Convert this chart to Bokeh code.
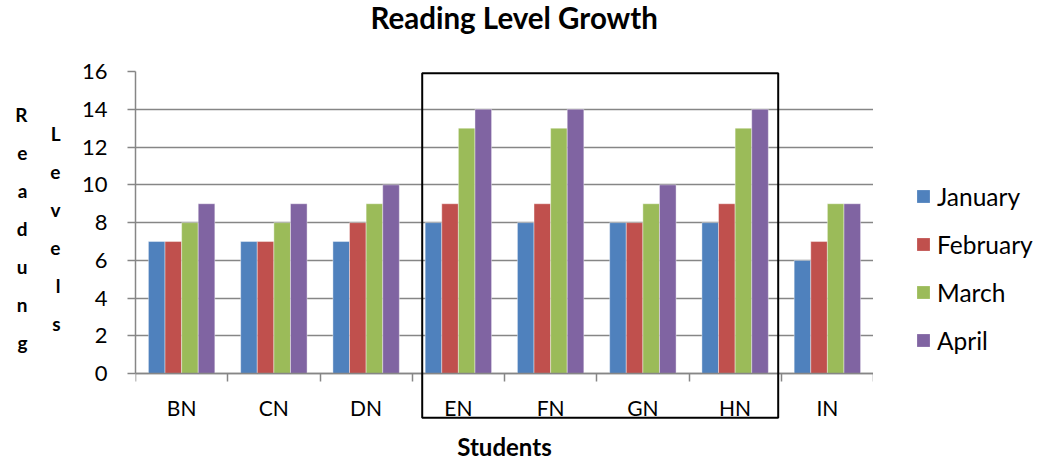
from bokeh.plotting import figure
from bokeh.layouts import row
from bokeh.models import (Range1d, FixedTicker, Legend, LegendItem, LinearAxis,
                          BoxAnnotation, ColumnDataSource)
from bokeh.embed import file_html
from bokeh.resources import INLINE

# Reading levels per student, one list per month
students = ["BN", "CN", "DN", "EN", "FN", "GN", "HN", "IN"]
months = ["January", "February", "March", "April"]
january = [7, 7, 7, 8, 8, 8, 8, 6]
february = [7, 7, 8, 9, 9, 8, 9, 7]
march = [8, 8, 9, 13, 13, 9, 13, 9]
april = [9, 9, 10, 14, 14, 10, 14, 9]
y_ticks = [0, 2, 4, 6, 8, 10, 12, 14, 16]

series = [january, february, march, april]
colors = ["#4F81BD", "#C0504D", "#9BBB59", "#8064A2"]
offsets = [-0.27, -0.09, 0.09, 0.27]
bar_width = 0.18

FONT = "Lato"
GRAY = "#868686"


def blank_axis(label, standoff, size, style="bold"):
    """An axis with no ticks, used only to carry a label (or empty space)."""
    return LinearAxis(ticker=FixedTicker(ticks=[], minor_ticks=[]),
                      axis_line_color=None, major_tick_line_color=None,
                      major_tick_out=0, major_tick_in=0,
                      minor_tick_out=0, minor_tick_in=0,
                      major_label_standoff=0,
                      axis_label=label, axis_label_standoff=standoff,
                      axis_label_text_font=FONT,
                      axis_label_text_font_size=size,
                      axis_label_text_font_style=style,
                      axis_label_text_color="black")


# The frame reaches below zero so the highlight box can extend under the
# category labels; the x axis itself is pinned at y = 0.
p = figure(width=873, height=463, output_backend="svg", toolbar_location=None,
           x_range=Range1d(0, len(students)), y_range=Range1d(-2.6316, 16),
           min_border_left=135, min_border_right=0,
           min_border_top=71, min_border_bottom=38)
p.outline_line_color = None
p.background_fill_color = "white"
p.border_fill_color = "white"

p.title.text = "Reading Level Growth"
p.title.align = "left"
p.title.offset = 235
p.title.text_font = FONT
p.title.text_font_size = "29.5px"
p.title.text_font_style = "bold"
p.title.text_color = "black"
p.title.standoff = -12

centers = [i + 0.5 for i in range(len(students))]
for name, vals, col, off in zip(months, series, colors, offsets):
    src = ColumnDataSource(dict(x=[c + off for c in centers], top=vals,
                                student=students))
    p.vbar(x="x", top="top", width=bar_width, source=src,
           fill_color=col, line_color="white", line_alpha=0.5, line_width=0.8)

# Grid and the two main axes
p.xgrid.visible = False
p.ygrid.grid_line_color = GRAY
p.ygrid.grid_line_width = 1.5

xa = p.below[0]
ya = p.left[0]

ya.ticker = FixedTicker(ticks=y_ticks)
ya.bounds = (0, 16)
xa.ticker = FixedTicker(ticks=centers,
                        minor_ticks=list(range(len(students) + 1)))
xa.major_label_overrides = {c: s for c, s in zip(centers, students)}
xa.fixed_location = 0

for ax in (xa, ya):
    ax.axis_line_color = GRAY
    ax.axis_line_width = 1.5
    ax.major_label_text_font = FONT
    ax.major_label_text_color = "black"
    ax.major_tick_in = 0
    ax.minor_tick_in = 0

ya.major_label_text_font_size = "22px"
ya.major_tick_out = 8
ya.major_tick_line_color = GRAY
ya.major_tick_line_width = 1.5
ya.minor_tick_line_color = None
ya.major_label_standoff = 20

xa.major_label_text_font_size = "21px"
xa.major_tick_line_color = None
xa.major_tick_out = 0
xa.minor_tick_out = 8
xa.minor_tick_line_color = GRAY
xa.minor_tick_line_width = 1.5
xa.major_label_standoff = 13

# empty gap between the title and the plot area
p.add_layout(blank_axis("\u00a0", 28, "10px"), "above")

# x axis title
p.add_layout(blank_axis("Students", 8, "24px"), "below")


def letter_axis(word, standoff):
    """A word written downwards, one letter per line."""
    ax = blank_axis("\n".join(word) + "\n ", standoff, "19px")
    ax.axis_label_orientation = "horizontal"
    ax.axis_label_text_line_height = 1.65
    return ax


p.add_layout(letter_axis("Levels", 18), "left")
p.add_layout(letter_axis("Readung", 20), "left")

# Highlight box around the EN-HN group
p.add_layout(BoxAnnotation(left=3.108, right=6.967, top=15.91, bottom=-2.33,
                           fill_color=None, fill_alpha=0, line_color="black",
                           line_alpha=1, line_width=2))

# Legend panel to the right of the chart
pl = figure(width=164, height=463, output_backend="svg", toolbar_location=None,
            x_range=Range1d(0, 1), y_range=Range1d(0, 1),
            x_axis_type=None, y_axis_type=None, min_border=0)
pl.outline_line_color = None
pl.grid.visible = False
swatches = []
for name, col in zip(months, colors):
    # a swatch renderer whose single bar lies outside the visible range
    r = pl.vbar(x=[5], top=[5], bottom=[4], width=0.1, fill_color=col,
                line_color=None)
    swatches.append(LegendItem(label=name, renderers=[r]))

legend = Legend(items=swatches, location=(42, 68), orientation="vertical",
                glyph_width=16, glyph_height=16, label_height=30,
                label_standoff=6, spacing=18, padding=0, margin=0,
                border_line_color=None, background_fill_alpha=0,
                label_text_font=FONT, label_text_font_size="24.5px",
                label_text_color="black")
pl.add_layout(legend, "center")

layout = row(p, pl, spacing=0)
open("out.html", "w").write(file_html(layout, INLINE))
